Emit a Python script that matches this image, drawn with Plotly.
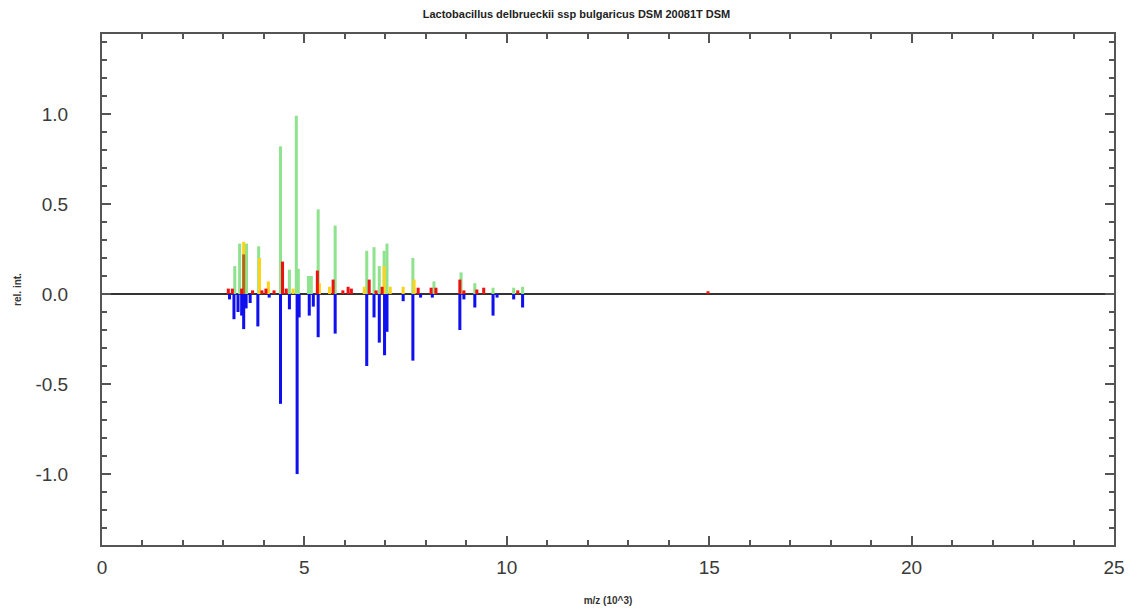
import plotly.graph_objects as go

title_text = "Lactobacillus delbrueckii ssp bulgaricus DSM 20081T DSM"

# m/z (x10^3) and relative intensities
green_mz = [3.28, 3.40, 3.57, 3.87, 4.41, 4.63, 4.80, 4.85, 5.10, 5.17, 5.34, 5.76,
            6.54, 6.72, 6.85, 6.97, 7.04, 7.68, 8.20, 8.87, 9.21, 9.66, 10.17, 10.39]
green_int = [0.155, 0.28, 0.28, 0.265, 0.82, 0.135, 0.99, 0.14, 0.10, 0.10, 0.47, 0.38,
             0.24, 0.26, 0.155, 0.24, 0.28, 0.20, 0.07, 0.12, 0.06, 0.035, 0.035, 0.04]

yellow_mz = [3.50, 3.89, 4.11, 4.72, 5.37, 5.62, 6.48, 6.97, 7.12, 7.44, 7.71]
yellow_int = [0.29, 0.20, 0.07, 0.03, 0.06, 0.04, 0.04, 0.155, 0.04, 0.04, 0.08]

brown_mz = [3.50]
brown_int = [0.22]

red_mz = [3.12, 3.22, 3.45, 3.72, 3.95, 4.05, 4.25, 4.46, 4.55, 5.32, 5.71, 5.95,
          6.08, 6.16, 6.60, 6.77, 6.92, 7.81, 8.13, 8.25, 8.84, 8.94, 9.26, 9.43,
          10.27, 14.97]
red_int = [0.03, 0.03, 0.03, 0.02, 0.02, 0.03, 0.02, 0.18, 0.03, 0.13, 0.08, 0.02,
           0.04, 0.03, 0.08, 0.02, 0.04, 0.035, 0.035, 0.035, 0.08, 0.02, 0.025, 0.035,
           0.02, 0.015]

blue_mz = [3.15, 3.26, 3.36, 3.45, 3.50, 3.56, 3.66, 3.85, 4.13, 4.41, 4.63, 4.82,
           4.87, 5.12, 5.22, 5.34, 5.76, 6.54, 6.72, 6.85, 6.98, 7.04, 7.44, 7.68,
           7.87, 8.16, 8.84, 8.94, 9.21, 9.66, 9.76, 10.17, 10.39]
blue_int = [-0.03, -0.14, -0.10, -0.12, -0.195, -0.08, -0.05, -0.18, -0.02, -0.61, -0.085, -1.0,
            -0.13, -0.12, -0.07, -0.24, -0.22, -0.40, -0.13, -0.27, -0.34, -0.21, -0.04, -0.37,
            -0.02, -0.02, -0.20, -0.03, -0.075, -0.12, -0.02, -0.03, -0.075]

x_ticks = [0, 5, 10, 15, 20, 25]
y_ticks = [-1.0, -0.5, 0.0, 0.5, 1.0]
y_tick_labels = ["-1.0", "-0.5", "0.0", "0.5", "1.0"]

bar_w = 0.075

fig = go.Figure()
for xs, ys, col in [(green_mz, green_int, "#8fe38f"),
                    (yellow_mz, yellow_int, "#ffd21a"),
                    (brown_mz, brown_int, "#b5651d"),
                    (red_mz, red_int, "#ee1111"),
                    (blue_mz, blue_int, "#1010ee")]:
    fig.add_trace(go.Bar(x=xs, y=ys, width=bar_w, marker=dict(color=col, line=dict(width=0)),
                         showlegend=False))

axis_font = dict(family="Liberation Sans, Arial, sans-serif", size=19, color="#3a3a3a")
fig.update_layout(
    width=1137, height=611,
    barmode="overlay",
    plot_bgcolor="white", paper_bgcolor="white",
    margin=dict(l=94, r=31, t=26, b=74),
    title=dict(text="<b>" + title_text + "</b>", x=0.5, xanchor="center",
               y=1 - 6 / 611, yanchor="middle", yref="container",
               font=dict(family="Liberation Sans, Arial, sans-serif", size=11, color="#222222")),
    xaxis=dict(range=[0, 25], tickvals=x_ticks, showgrid=False, automargin=False,
               zeroline=False, showline=True, linecolor="#555555", linewidth=2, mirror="ticks",
               ticks="inside", ticklen=9, tickwidth=2, tickcolor="#555555",
               minor=dict(dtick=1, ticks="inside", ticklen=5, tickwidth=2, tickcolor="#555555"),
               tickfont=axis_font, ticklabelstandoff=4,
               title=dict(text="<b>m/z (10^3)</b>", standoff=20,
                          font=dict(family="Liberation Sans, Arial, sans-serif", size=10, color="#333333"))),
    yaxis=dict(range=[-1.394, 1.444], tickvals=y_ticks, ticktext=y_tick_labels,
               showgrid=False, zeroline=True, zerolinecolor="#333333", zerolinewidth=2,
               automargin=False,
               showline=True, linecolor="#555555", linewidth=2, mirror="ticks",
               ticks="inside", ticklen=9, tickwidth=2, tickcolor="#555555",
               minor=dict(dtick=0.1, ticks="inside", ticklen=5, tickwidth=2, tickcolor="#555555"),
               tickfont=axis_font, ticklabelstandoff=28,
               title=dict(text="<b>rel. int.</b>", standoff=12,
                          font=dict(family="Liberation Sans, Arial, sans-serif", size=10, color="#333333"))),
)

fig.write_html("out.html")
